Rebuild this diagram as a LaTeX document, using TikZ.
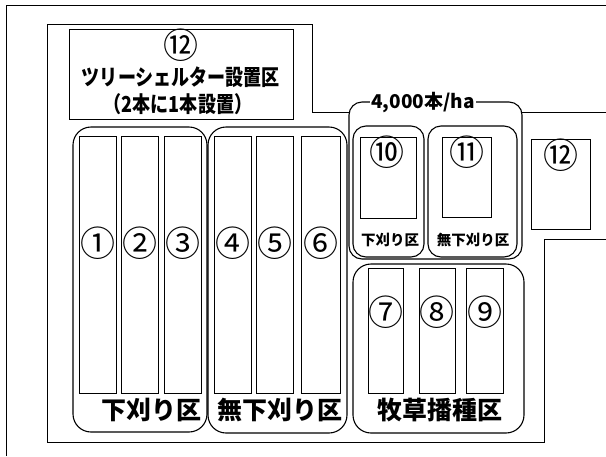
\documentclass[tikz,border=0pt]{standalone}
\usepackage{fontspec}
\setmainfont{Noto Sans CJK JP}
\begin{document}
\begin{tikzpicture}[x=1pt,y=-1pt,
  ln/.style={line width=0.9pt},
  grp/.style={line width=1.1pt, rounded corners=18pt},
  sub/.style={line width=1.1pt, rounded corners=13pt},
  box/.style={line width=0.9pt},
  num/.style={font=\fontsize{35}{35}\selectfont, inner sep=0pt},
  big/.style={font=\bfseries\fontsize{25}{25}\selectfont, inner sep=0pt},
  small/.style={font=\bfseries\fontsize{14.5}{14.5}\selectfont, inner sep=0pt},
  tree/.style={font=\bfseries\fontsize{22}{22}\selectfont, inner sep=0pt},
  dens/.style={font=\bfseries\fontsize{19}{19}\selectfont, inner sep=1pt, fill=white}]
\useasboundingbox (0,0) rectangle (606,456);
% outer frame
\draw[ln] (6,456) -- (6,5) -- (606,5);
% field boundary
\draw[ln] (606,112) -- (312,112) -- (312,24) -- (47,24) -- (47,442) -- (544,442) -- (544,239) -- (606,239);
% tree shelter area
\draw[box] (69,29) rectangle (293,119);
\node[num] (n12a) at (181,45) {⑫};
\node[tree] (t1) at (181,77) {\scalebox{0.82}[1]{ツリーシェルター設置区}};
\node[tree] (t2) at (178,104) {\scalebox{0.82}[1]{（2本に1本設置）}};
% group 1
\draw[grp] (73,127) rectangle (207,432);
\foreach \a/\b/\n in {79/116/①,121/158/②,164/201/③}{
  \draw[box] (\a,136) rectangle (\b,393);
  \node[num] at ({(\a+\b)/2},243) {\n};
}
\node[big] (g1) at (151,410) {下刈り区};
% group 2
\draw[grp] (208,127) rectangle (347,433);
\foreach \a/\b/\n in {214/251/④,256/293/⑤,301/340/⑥}{
  \draw[box] (\a,136) rectangle (\b,393);
  \node[num] at ({(\a+\b)/2},243) {\n};
}
\node[big] (g2) at (280,410) {無下刈り区};
% 4000/ha group
\draw[sub, fill=white] (349,102) rectangle (522,259);
\node[dens] (dens) at (423,103) {4,000本/ha};
\draw[sub] (353,126) rectangle (424,257);
\draw[sub] (428,126) rectangle (517,257);
\draw[box] (360,137) rectangle (416,218);
\draw[box] (442,137) rectangle (491,217);
\node[num] (n10) at (387,152) {⑩};
\node[num] (n11) at (467,152) {⑪};
\node[small] (s10) at (390,240) {下刈り区};
\node[small] (s11) at (473,240) {無下刈り区};
% right 12 box
\draw[box] (531,139) rectangle (590,229);
\node[num] (n12b) at (561,155) {⑫};
% pasture group
\draw[grp] (353,264) rectangle (524,433);
\foreach \a/\b/\n in {368/403/⑦,419/455/⑧,466/503/⑨}{
  \draw[box] (\a,268) rectangle (\b,393);
  \node[num] at ({(\a+\b)/2},312) {\n};
}
\node[big] (g3) at (440,410) {牧草播種区};
\end{tikzpicture}
\end{document}
